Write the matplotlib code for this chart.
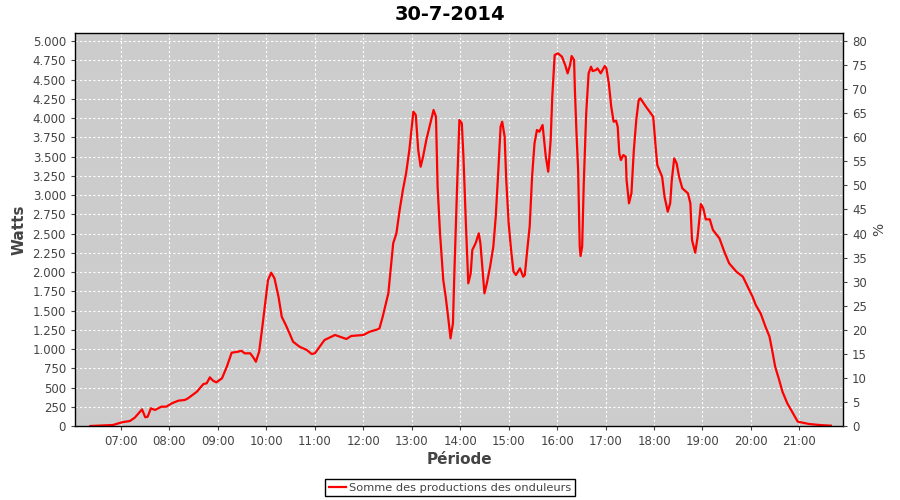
import matplotlib
matplotlib.use('Agg')
import numpy as np
import matplotlib.pyplot as plt
from matplotlib import ticker

title = '30-7-2014'
series_name = 'Somme des productions des onduleurs'

# heure (HH:MM) et puissance en W
heures = ['06:22', '06:50', '07:01', '07:11', '07:17', '07:26', '07:30', '07:33', '07:37', '07:42',
          '07:50', '07:56', '08:03', '08:11', '08:19', '08:23', '08:34', '08:42', '08:46', '08:50',
          '08:54', '08:58', '09:05', '09:11', '09:17', '09:25', '09:29', '09:33', '09:40', '09:44',
          '09:47', '09:51', '09:55', '10:02', '10:06', '10:10', '10:15', '10:19', '10:24', '10:29',
          '10:33', '10:41', '10:50', '10:56', '11:00', '11:06', '11:12', '11:18', '11:25', '11:31',
          '11:39', '11:45', '12:00', '12:08', '12:18', '12:20', '12:24', '12:31', '12:35', '12:37',
          '12:41', '12:45', '12:49', '12:53', '12:57', '13:00', '13:02', '13:05', '13:08', '13:11',
          '13:14', '13:18', '13:22', '13:27', '13:30', '13:32', '13:35', '13:39', '13:42', '13:45',
          '13:48', '13:51', '13:53', '13:56', '13:59', '14:02', '14:04', '14:07', '14:10', '14:13',
          '14:15', '14:19', '14:23', '14:25', '14:27', '14:30', '14:33', '14:37', '14:41', '14:44',
          '14:47', '14:50', '14:52', '14:55', '14:57', '15:00', '15:03', '15:06', '15:09', '15:14',
          '15:18', '15:20', '15:23', '15:26', '15:29', '15:32', '15:35', '15:38', '15:42', '15:46',
          '15:49', '15:52', '15:54', '15:57', '16:01', '16:06', '16:10', '16:13', '16:16', '16:18',
          '16:21', '16:22', '16:24', '16:26', '16:28', '16:29', '16:31', '16:33', '16:36', '16:39',
          '16:42', '16:44', '16:48', '16:50', '16:54', '16:59', '17:01', '17:04', '17:07', '17:10',
          '17:13', '17:15', '17:17', '17:19', '17:22', '17:25', '17:26', '17:29', '17:32', '17:35',
          '17:38', '17:41', '17:43', '17:50', '17:56', '17:59', '18:02', '18:04', '18:10', '18:13',
          '18:17', '18:20', '18:22', '18:25', '18:28', '18:31', '18:35', '18:42', '18:45', '18:47',
          '18:51', '18:54', '18:58', '19:01', '19:04', '19:09', '19:13', '19:21', '19:27', '19:33',
          '19:42', '19:50', '19:56', '20:02', '20:06', '20:12', '20:18', '20:23', '20:27', '20:30',
          '20:35', '20:39', '20:45', '20:52', '20:58', '21:04', '21:12', '21:25', '21:39']
watts = [0, 13, 48, 65, 108, 216, 113, 121, 230, 208,
         251, 251, 295, 329, 338, 360, 446, 545, 554, 632,
         588, 567, 619, 770, 952, 965, 978, 944, 944, 887,
         835, 965, 1290, 1896, 1991, 1918, 1679, 1419, 1312, 1195,
         1095, 1030, 987, 935, 944, 1030, 1117, 1147, 1182, 1160,
         1130, 1169, 1182, 1225, 1256, 1268, 1419, 1723, 2156, 2372,
         2502, 2805, 3065, 3282, 3584, 3887, 4082, 4039, 3584, 3368,
         3497, 3714, 3887, 4104, 4017, 3108, 2502, 1896, 1679, 1419,
         1139, 1334, 2069, 3065, 3974, 3931, 3497, 2632, 1853, 1983,
         2286, 2372, 2502, 2372, 2113, 1723, 1853, 2069, 2329, 2718,
         3282, 3887, 3952, 3757, 3195, 2632, 2286, 2004, 1961, 2048,
         1939, 1961, 2286, 2589, 3238, 3671, 3844, 3822, 3909, 3497,
         3303, 3714, 4277, 4818, 4840, 4796, 4688, 4580, 4688, 4805,
         4753, 4364, 3801, 3325, 2329, 2208, 2329, 3152, 4060, 4580,
         4666, 4610, 4623, 4645, 4580, 4675, 4645, 4450, 4147, 3952,
         3965, 3887, 3541, 3454, 3519, 3497, 3195, 2892, 3022, 3584,
         3974, 4234, 4256, 4147, 4060, 4017, 3627, 3390, 3238, 2978,
         2783, 2892, 3195, 3476, 3411, 3238, 3087, 3022, 2892, 2416,
         2251, 2459, 2883, 2827, 2684, 2684, 2545, 2437, 2264, 2113,
         2004, 1939, 1809, 1679, 1571, 1463, 1290, 1160, 944, 770,
         597, 446, 295, 165, 56, 43, 26, 13, 4]

xticks_lbl = ['07:00', '08:00', '09:00', '10:00', '11:00', '12:00', '13:00',
              '14:00', '15:00', '16:00', '17:00', '18:00', '19:00', '20:00', '21:00']


def to_min(h):
    hh, mm = h.split(':')
    return int(hh) * 60 + int(mm)


x = np.array([to_min(h) for h in heures])
y = np.array(watts)

fig = plt.figure(figsize=(9, 5), dpi=100)
ax = fig.add_axes([75/900., 1 - 426/500., (843 - 75)/900., (426 - 33)/500.])
ax.set_facecolor('#cccccc')

ax.plot(x, y, color='#ff0000', lw=1.6, label=series_name)

ymax = 5104
ax.set_xlim(363, 1314)
ax.set_ylim(0, ymax)
ax.set_xticks([to_min(h) for h in xticks_lbl])
ax.set_xticklabels(xticks_lbl)
ax.set_yticks(np.arange(0, 5001, 250))
ax.yaxis.set_major_formatter(ticker.FuncFormatter(lambda v, p: '{:,.0f}'.format(v).replace(',', '.')))
ax.grid(True, color='white', linestyle=(0, (2, 2)), linewidth=0.8)
ax.set_axisbelow(True)

tc = '#444444'
ax.tick_params(labelsize=8.5, colors=tc, length=3, width=0.8)
for s in ax.spines.values():
    s.set_color('black')
    s.set_linewidth(1)

ax.set_ylabel('Watts', fontsize=11, fontweight='bold', color=tc)
ax.set_xlabel('Période', fontsize=11, fontweight='bold', color=tc, labelpad=3)

# axe de droite en %
ax2 = ax.twinx()
ax2.set_ylim(0, ymax * 80 / 5000.)
ax2.set_yticks(np.arange(0, 81, 5))
ax2.tick_params(labelsize=8.5, colors=tc, length=3, width=0.8)
ax2.set_ylabel('%', fontsize=10, color=tc)
for s in ax2.spines.values():
    s.set_visible(False)

fig.suptitle(title, fontsize=14, fontweight='bold', y=0.99)

leg = fig.legend(loc='lower center', bbox_to_anchor=(0.5, -0.004), fontsize=8.2,
                 fancybox=False, framealpha=1, edgecolor='black', handlelength=1.5,
                 handletextpad=0.3, borderpad=0.3)
leg.get_frame().set_linewidth(1)
for t in leg.get_texts():
    t.set_color(tc)

plt.savefig('out.png', dpi=100)
